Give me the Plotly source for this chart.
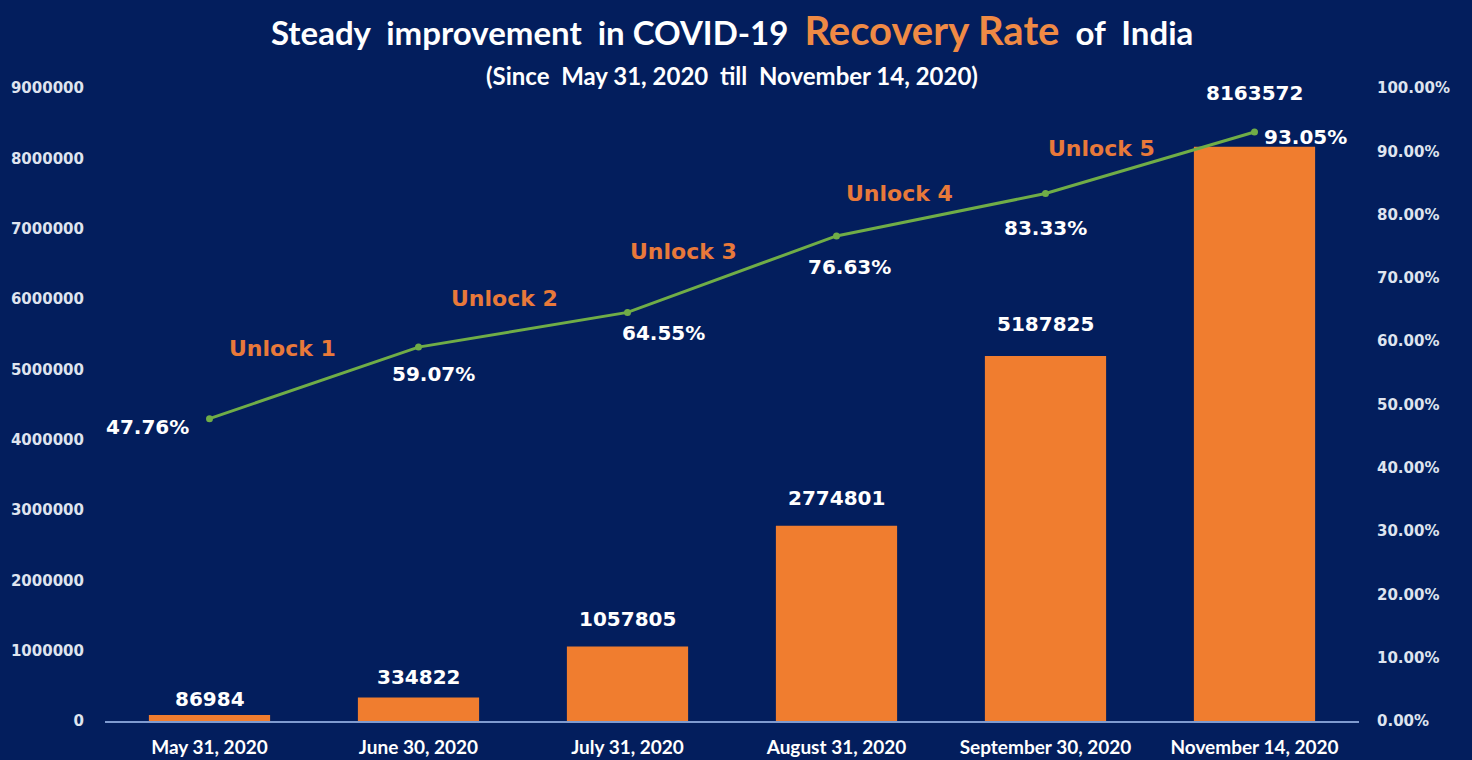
import plotly.graph_objects as go

dates = ["May 31, 2020", "June 30, 2020", "July 31, 2020", "August 31, 2020",
         "September 30, 2020", "November 14, 2020"]
recovered = [86984, 334822, 1057805, 2774801, 5187825, 8163572]
recovery_rate = [0.4776, 0.5907, 0.6455, 0.7663, 0.8333, 0.9305]
rate_labels = ["47.76%", "59.07%", "64.55%", "76.63%", "83.33%", "93.05%"]
unlock_labels = ["Unlock 1", "Unlock 2", "Unlock 3", "Unlock 4", "Unlock 5"]
unlock_x = [0.35, 1.41, 2.27, 3.30, 4.27]
unlock_y = [0.589, 0.667, 0.741, 0.834, 0.905]
left_ticks = [0, 1000000, 2000000, 3000000, 4000000, 5000000, 6000000, 7000000, 8000000, 9000000]
right_ticks = [i / 10 for i in range(11)]

# label placement offsets (pixels)
bar_label_shift = [2, 6, 14, 14, 18, 40]
rate_xshift = [-62, 15, 36, 13, 0, 51]
rate_yshift = [-8, -27, -21, -31, -34, -5]

BG = "#031e5d"
ORANGE = "#f07d2f"
LABEL_FONT = "DejaVu Sans"
NARROW = "Lato"

fig = go.Figure()
fig.add_trace(go.Bar(
    x=dates, y=recovered, width=0.58,
    marker=dict(color=ORANGE, line=dict(width=0)),
    hoverinfo="skip",
))
fig.add_trace(go.Scatter(
    x=dates, y=recovery_rate, yaxis="y2", mode="lines+markers",
    line=dict(color="#70ad47", width=3),
    marker=dict(color="#70ad47", size=7),
    cliponaxis=False, hoverinfo="skip",
))

annotations = []
for d, v, s in zip(dates, recovered, bar_label_shift):
    annotations.append(dict(x=d, y=v, xref="x", yref="y", text=str(v), showarrow=False,
                            yanchor="bottom", yshift=s,
                            font=dict(family=LABEL_FONT, size=20, color="white", weight="bold")))
for d, r, t, xs, ys in zip(dates, recovery_rate, rate_labels, rate_xshift, rate_yshift):
    annotations.append(dict(x=d, y=r, xref="x", yref="y2", text=t, showarrow=False,
                            xshift=xs, yshift=ys,
                            font=dict(family=LABEL_FONT, size=20, color="white", weight="bold")))
for lbl, ux, uy in zip(unlock_labels, unlock_x, unlock_y):
    annotations.append(dict(x=ux, y=uy, xref="x", yref="y2", text=lbl, showarrow=False,
                            font=dict(family=LABEL_FONT, size=22, color="#e8793a", weight="bold")))

annotations.append(dict(
    x=0.5, y=1.092, xref="paper", yref="paper", showarrow=False,
    xanchor="center", yanchor="middle",
    text=("Steady  improvement  in COVID-19  "
          "<span style='color:#ef8a45;font-size:40px'>Recovery Rate</span>  of  India"),
    font=dict(family=NARROW, size=33, color="white", weight="bold"),
))
annotations.append(dict(
    x=0.5, y=1.0205, xref="paper", yref="paper", showarrow=False,
    xanchor="center", yanchor="middle",
    text="(Since  May 31, 2020  till  November 14, 2020)",
    font=dict(family=NARROW, size=24, color="white", weight="bold"),
))

fig.update_layout(
    width=1472, height=760,
    paper_bgcolor=BG, plot_bgcolor=BG,
    margin=dict(l=105, r=113, t=88, b=39),
    showlegend=False,
    xaxis=dict(
        type="category", showgrid=False, showline=True, linecolor="#7f9bd0", linewidth=1.5,
        ticks="", tickfont=dict(family=NARROW, size=19, color="white", weight="bold"),
        range=[-0.5, 5.5], ticklabelstandoff=8, automargin=False,
    ),
    yaxis=dict(
        range=[0, 9000000], tickvals=left_ticks, ticktext=[str(v) for v in left_ticks],
        showgrid=False, zeroline=False, ticks="",
        tickfont=dict(family=LABEL_FONT, size=15, color="#dfe4ef", weight="bold"),
        ticklabelstandoff=20, automargin=False,
    ),
    yaxis2=dict(
        range=[0, 1], overlaying="y", side="right", tickvals=right_ticks,
        ticktext=[f"{v*100:.2f}%" for v in right_ticks],
        showgrid=False, zeroline=False, ticks="",
        tickfont=dict(family=LABEL_FONT, size=15, color="#dfe4ef", weight="bold"),
        ticklabelstandoff=17, automargin=False,
    ),
    annotations=annotations,
    hovermode=False,
)

fig.write_html("out.html", config={"displayModeBar": False},
               post_script="document.body.style.margin='0';document.body.style.overflow='hidden';")
